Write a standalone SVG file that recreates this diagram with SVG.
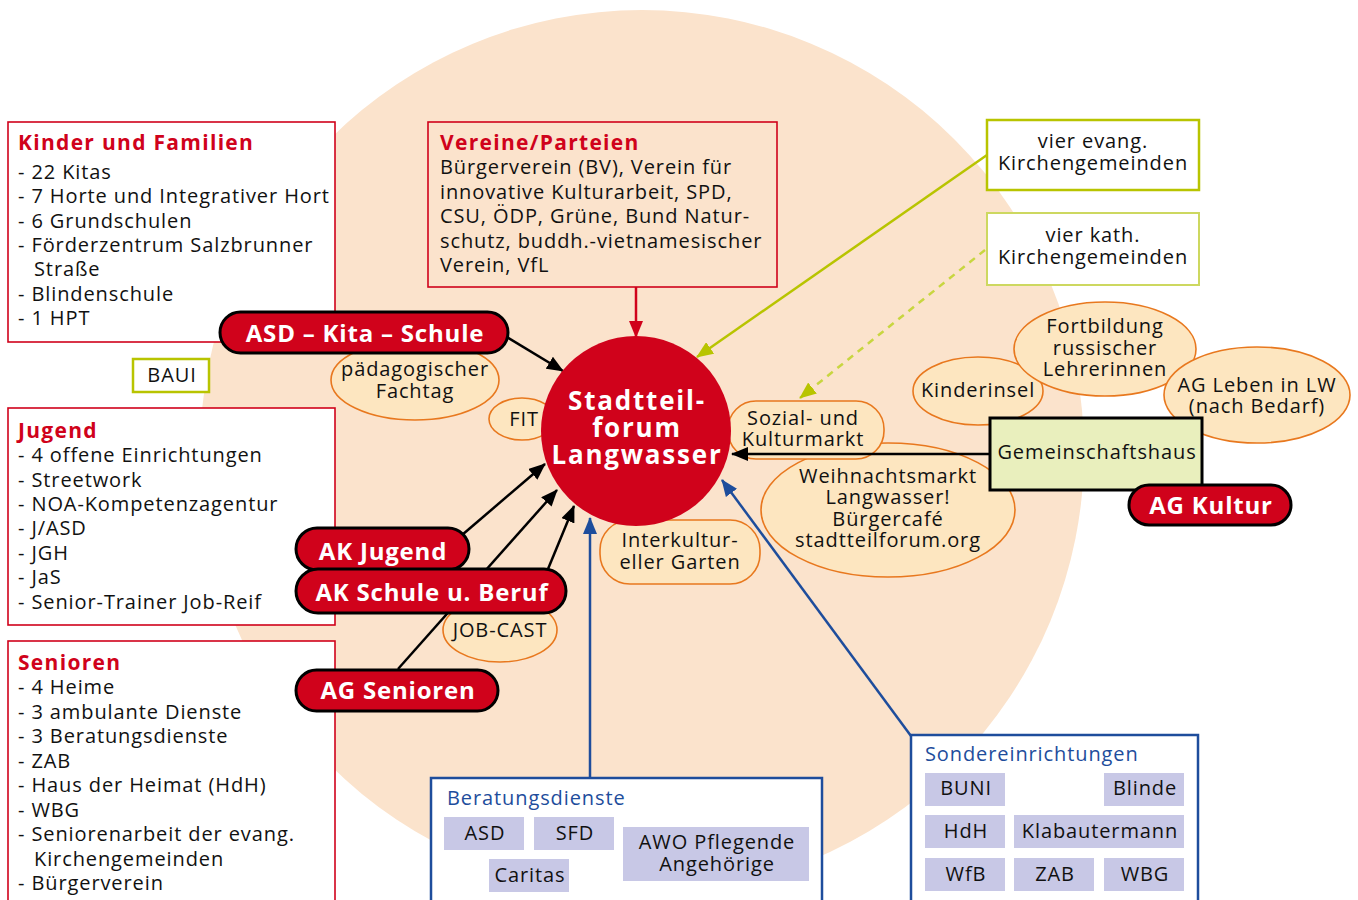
<svg xmlns="http://www.w3.org/2000/svg" width="1358" height="900" viewBox="0 0 1358 900">
<style>
text{font-family:"Open Sans","Noto Sans","DejaVu Sans",sans-serif;font-size:20px;letter-spacing:0.9px;fill:#111}
.t{font-weight:bold;fill:#d0021b;font-size:21px;letter-spacing:1.3px}
.bt{fill:#1e4d9c}
.w{font-weight:bold;fill:#fff;font-size:24px;letter-spacing:0.8px}
.f{font-size:26px;letter-spacing:1.8px}
.c{text-anchor:middle}
.box{fill:#fff;stroke:#d0021b;stroke-width:1.6}
.ell{fill:#fde6c0;stroke:#e8781e;stroke-width:1.6}
.pill{fill:#d0021b;stroke:#000;stroke-width:3}
.lime{fill:#fff;stroke:#b8c400;stroke-width:2.5}
.blue{fill:#fff;stroke:#1e4d9c;stroke-width:2.5}
.lav{fill:#c8c8e6}
.ln{fill:none;stroke-width:2.5}
</style>
<defs>
<marker id="ab" markerUnits="userSpaceOnUse" markerWidth="18" markerHeight="14" refX="16" refY="7" orient="auto"><path d="M0,0 L17,7 L0,14 z" fill="#000"/></marker>
<marker id="ar" markerUnits="userSpaceOnUse" markerWidth="18" markerHeight="14" refX="16" refY="7" orient="auto"><path d="M0,0 L17,7 L0,14 z" fill="#d0021b"/></marker>
<marker id="al" markerUnits="userSpaceOnUse" markerWidth="18" markerHeight="14" refX="16" refY="7" orient="auto"><path d="M0,0 L17,7 L0,14 z" fill="#b8c400"/></marker>
<marker id="abl" markerUnits="userSpaceOnUse" markerWidth="18" markerHeight="14" refX="16" refY="7" orient="auto"><path d="M0,0 L17,7 L0,14 z" fill="#1e4d9c"/></marker>
</defs>
<rect width="1358" height="900" fill="#fff"/>
<circle cx="642" cy="452" r="442" fill="#fbe3cc"/>

<g id="kinder">
<rect class="box" x="8" y="122" width="327" height="220"/>
<text x="18" y="150" class="t">Kinder und Familien</text>
<text x="18" y="179">- 22 Kitas</text>
<text x="18" y="203">- 7 Horte und Integrativer Hort</text>
<text x="18" y="228">- 6 Grundschulen</text>
<text x="18" y="252">- Förderzentrum Salzbrunner</text>
<text x="34" y="276">Straße</text>
<text x="18" y="301">- Blindenschule</text>
<text x="18" y="325">- 1 HPT</text>
</g>
<g id="jugend">
<rect class="box" x="8" y="408" width="327" height="217"/>
<text x="18" y="438" class="t">Jugend</text>
<text x="18" y="462">- 4 offene Einrichtungen</text>
<text x="18" y="487">- Streetwork</text>
<text x="18" y="511">- NOA-Kompetenzagentur</text>
<text x="18" y="535">- J/ASD</text>
<text x="18" y="560">- JGH</text>
<text x="18" y="584">- JaS</text>
<text x="18" y="609">- Senior-Trainer Job-Reif</text>
</g>
<g id="senioren">
<rect class="box" x="8" y="641" width="327" height="270"/>
<text x="18" y="670" class="t">Senioren</text>
<text x="18" y="694">- 4 Heime</text>
<text x="18" y="719">- 3 ambulante Dienste</text>
<text x="18" y="743">- 3 Beratungsdienste</text>
<text x="18" y="768">- ZAB</text>
<text x="18" y="792">- Haus der Heimat (HdH)</text>
<text x="18" y="817">- WBG</text>
<text x="18" y="841">- Seniorenarbeit der evang.</text>
<text x="34" y="866">Kirchengemeinden</text>
<text x="18" y="890">- Bürgerverein</text>
</g>
<g id="vereine">
<rect x="428" y="122" width="349" height="165" fill="none" stroke="#d0021b" stroke-width="1.6"/>
<text x="440" y="150" class="t">Vereine/Parteien</text>
<text x="440" y="174">Bürgerverein (BV), Verein für</text>
<text x="440" y="199">innovative Kulturarbeit, SPD,</text>
<text x="440" y="223">CSU, ÖDP, Grüne, Bund Natur-</text>
<text x="440" y="248">schutz, buddh.-vietnamesischer</text>
<text x="440" y="272">Verein, VfL</text>
</g>
<g id="evang">
<rect class="lime" x="987" y="120" width="212" height="70"/>
<text x="1093" y="148" class="c">vier evang.</text>
<text x="1093" y="170" class="c">Kirchengemeinden</text>
</g>
<g id="kath">
<rect x="987" y="213" width="212" height="72" fill="#fff" stroke="#cdd860" stroke-width="2"/>
<text x="1093" y="242" class="c">vier kath.</text>
<text x="1093" y="264" class="c">Kirchengemeinden</text>
</g>
<g id="baui">
<rect class="lime" x="133" y="359" width="76" height="33"/>
<text x="172" y="382" class="c">BAUI</text>
</g>

<g id="paed"><ellipse class="ell" cx="415" cy="380" rx="84" ry="40"/>
<text x="415" y="376" class="c">pädagogischer</text><text x="415" y="398" class="c">Fachtag</text></g>
<g id="fit"><ellipse class="ell" cx="522" cy="419" rx="33" ry="21"/>
<text x="524" y="426" class="c">FIT</text></g>
<g id="weihnacht"><ellipse class="ell" cx="888" cy="510" rx="127" ry="67"/>
<text x="888" y="483" class="c">Weihnachtsmarkt</text><text x="888" y="504" class="c">Langwasser!</text><text x="888" y="526" class="c">Bürgercafé</text><text x="888" y="547" class="c">stadtteilforum.org</text></g>
<g id="sozial"><rect class="ell" x="728" y="401" width="156" height="58" rx="28"/>
<text x="803" y="425" class="c">Sozial- und</text><text x="803" y="446" class="c">Kulturmarkt</text></g>
<g id="interkultur"><rect class="ell" x="600" y="520" width="160" height="64" rx="30"/>
<text x="680" y="547" class="c">Interkultur-</text><text x="680" y="569" class="c">eller Garten</text></g>
<g id="jobcast"><ellipse class="ell" cx="500" cy="630" rx="57" ry="32"/>
<text x="500" y="637" class="c">JOB-CAST</text></g>
<g id="kinderinsel"><ellipse class="ell" cx="978" cy="391" rx="65" ry="34"/>
<text x="978" y="397" class="c">Kinderinsel</text></g>
<g id="fortbildung"><ellipse class="ell" cx="1105" cy="349" rx="91" ry="47"/>
<text x="1105" y="333" class="c">Fortbildung</text><text x="1105" y="355" class="c">russischer</text><text x="1105" y="376" class="c">Lehrerinnen</text></g>
<g id="agleben"><ellipse class="ell" cx="1257" cy="395" rx="93" ry="48"/>
<text x="1257" y="392" class="c">AG Leben in LW</text><text x="1257" y="413" class="c">(nach Bedarf)</text></g>

<g id="connectors">
<line class="ln" x1="636" y1="287" x2="636" y2="337" stroke="#d0021b" marker-end="url(#ar)"/>
<line class="ln" x1="505" y1="336" x2="563" y2="371" stroke="#000" marker-end="url(#ab)"/>
<line class="ln" x1="462" y1="535" x2="545" y2="464" stroke="#000" marker-end="url(#ab)"/>
<line class="ln" x1="398" y1="669" x2="557" y2="490" stroke="#000" marker-end="url(#ab)"/>
<line class="ln" x1="548" y1="569" x2="574" y2="506" stroke="#000" marker-end="url(#ab)"/>
<line class="ln" x1="990" y1="454" x2="732" y2="454" stroke="#000" marker-end="url(#ab)"/>
<line class="ln" x1="590" y1="778" x2="590" y2="518" stroke="#1e4d9c" marker-end="url(#abl)"/>
<line class="ln" x1="911" y1="736" x2="722" y2="480" stroke="#1e4d9c" marker-end="url(#abl)"/>
<line class="ln" x1="987" y1="155" x2="697" y2="357" stroke="#b8c400" marker-end="url(#al)"/>
<line class="ln" x1="985" y1="250" x2="800" y2="398" stroke="#c8d640" stroke-dasharray="7,6" marker-end="url(#al)"/>
</g>

<g id="forum"><circle cx="636" cy="431" r="95" fill="#d0021b"/>
<text x="637" y="410" class="w c f">Stadtteil-</text>
<text x="637" y="437" class="w c f">forum</text>
<text x="637" y="464" class="w c f">Langwasser</text></g>

<g id="asd"><rect class="pill" x="220" y="312" width="288" height="41" rx="20.5"/>
<text x="365" y="342" class="w c">ASD – Kita – Schule</text></g>
<g id="akjugend"><rect class="pill" x="296" y="528" width="173" height="42" rx="21"/>
<text x="383" y="560" class="w c">AK Jugend</text></g>
<g id="akschule"><rect class="pill" x="296" y="569" width="270" height="44" rx="22"/>
<text x="432" y="601" class="w c">AK Schule u. Beruf</text></g>
<g id="agsenioren"><rect class="pill" x="296" y="670" width="202" height="41" rx="20.5"/>
<text x="398" y="699" class="w c">AG Senioren</text></g>

<g id="gemeinschaftshaus"><rect x="990" y="418" width="212" height="72" fill="#e9efbd" stroke="#000" stroke-width="3"/>
<text x="1097" y="459" class="c">Gemeinschaftshaus</text></g>
<g id="agkultur"><rect class="pill" x="1129" y="485" width="162" height="40" rx="20"/>
<text x="1211" y="514" class="w c">AG Kultur</text></g>

<g id="beratung">
<rect class="blue" x="431" y="778" width="391" height="140"/>
<text x="447" y="805" class="bt">Beratungsdienste</text>
<rect class="lav" x="444" y="817" width="80" height="33"/><text x="485" y="840" class="c">ASD</text>
<rect class="lav" x="534" y="817" width="80" height="33"/><text x="575" y="840" class="c">SFD</text>
<rect class="lav" x="489" y="859" width="80" height="33"/><text x="530" y="882" class="c">Caritas</text>
<rect class="lav" x="623" y="827" width="186" height="54"/><text x="717" y="849" class="c">AWO Pflegende</text><text x="717" y="871" class="c">Angehörige</text>
</g>
<g id="sonder">
<rect class="blue" x="911" y="735" width="287" height="180"/>
<text x="925" y="761" class="bt">Sondereinrichtungen</text>
<rect class="lav" x="925" y="773" width="80" height="33"/><text x="966" y="795" class="c">BUNI</text>
<rect class="lav" x="1104" y="773" width="80" height="33"/><text x="1145" y="795" class="c">Blinde</text>
<rect class="lav" x="925" y="815" width="80" height="33"/><text x="966" y="838" class="c">HdH</text>
<rect class="lav" x="1014" y="815" width="170" height="33"/><text x="1100" y="838" class="c">Klabautermann</text>
<rect class="lav" x="925" y="858" width="80" height="33"/><text x="966" y="881" class="c">WfB</text>
<rect class="lav" x="1014" y="858" width="80" height="33"/><text x="1055" y="881" class="c">ZAB</text>
<rect class="lav" x="1104" y="858" width="80" height="33"/><text x="1145" y="881" class="c">WBG</text>
</g>
</svg>
